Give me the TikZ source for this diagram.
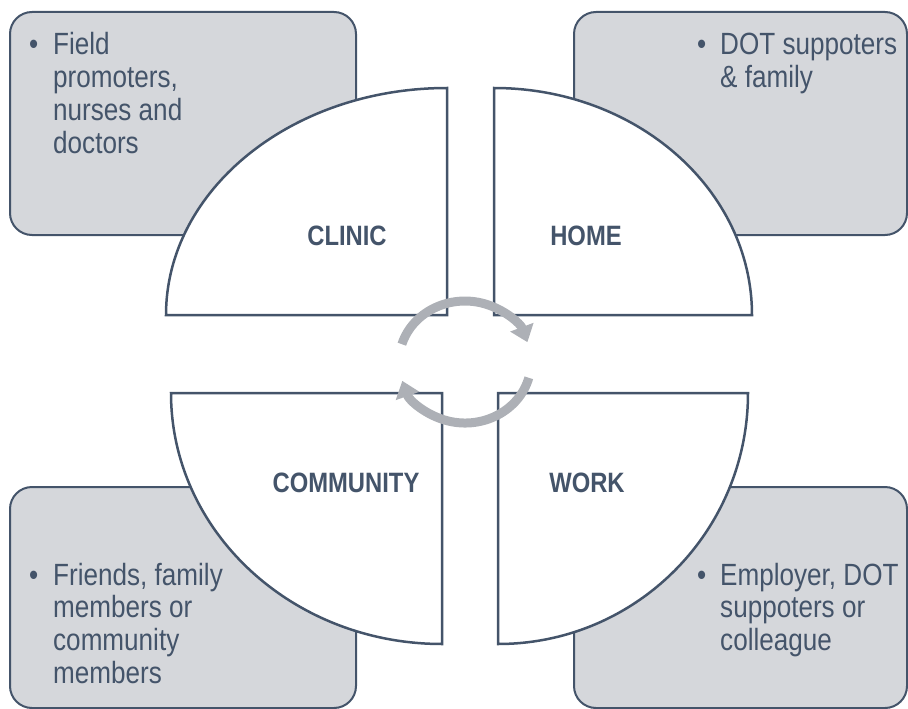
\documentclass[tikz,border=0pt]{standalone}
\usepackage{fontspec}
\setmainfont{Liberation Sans}
\newfontfamily\bodyfont[FakeStretch=0.85]{Liberation Sans}
\usetikzlibrary{arrows.meta}
\definecolor{navy}{HTML}{44546A}
\definecolor{boxgray}{HTML}{D5D7DB}
\definecolor{arrowgray}{HTML}{ADB0B6}
\begin{document}
\begin{tikzpicture}[x=1pt,y=-1pt,
  infobox/.style={draw=navy, fill=boxgray, line width=2pt, rounded corners=22pt},
  quarter/.style={draw=navy, fill=white, line width=2.5pt, line join=miter},
  cyc/.style={draw=arrowgray, line width=9pt, -{Triangle[width=24pt,length=16pt]}},
  lab/.style={font=\bodyfont\bfseries\fontsize{28}{30}\selectfont, text=navy, anchor=base, inner sep=0},
  info/.style={font=\bodyfont\fontsize{30.7}{32.7}\selectfont, text=navy, anchor=base west, inner sep=0}]
\useasboundingbox (0,0) rectangle (908,709);
% info boxes
\draw[infobox] (10,12) rectangle (356,235);
\draw[infobox] (574,12) rectangle (907,235);
\draw[infobox] (10,487) rectangle (356,708);
\draw[infobox] (574,487) rectangle (907,708);
% quarter shapes
\draw[quarter] (166,315) arc[start angle=180, end angle=90, x radius=281pt, y radius=227pt] -- (447,315) -- cycle;
\draw[quarter] (494,88) arc[start angle=90, end angle=0, x radius=258pt, y radius=227pt] -- (494,315) -- cycle;
\draw[quarter] (171,393) arc[start angle=180, end angle=270, x radius=271pt, y radius=251pt] -- (442,393) -- cycle;
\draw[quarter] (748,393) arc[start angle=0, end angle=-90, x radius=250pt, y radius=251pt] -- (498,393) -- cycle;
% cycle arrows
\coordinate (ctop) at (401.9,344.2);
\coordinate (cbot) at (528.8,377.8);
\draw[cyc] (ctop) arc[start angle=163, end angle=19, x radius=66pt, y radius=61pt];
\draw[cyc] (cbot) arc[start angle=-15, end angle=-162, x radius=66pt, y radius=61pt];
% labels
\node[lab] (clinic) at (347,245) {CLINIC};
\node[lab] (home) at (586,245) {HOME};
\node[lab] (community) at (346,492) {COMMUNITY};
\node[lab] (work) at (587,492) {WORK};
% texts
\node[info] (tltext) at (29,55) {\begin{tabular}[t]{@{}l@{}l@{}}\makebox[24pt][l]{•}&Field\\&promoters,\\&nurses and\\&doctors\end{tabular}};
\node[info] (trtext) at (697,55) {\begin{tabular}[t]{@{}l@{}l@{}}\makebox[23pt][l]{•}&DOT suppoters\\&\& family\end{tabular}};
\node[info] (bltext) at (29,585) {\begin{tabular}[t]{@{}l@{}l@{}}\makebox[24pt][l]{•}&Friends, family\\&members or\\&community\\&members\end{tabular}};
\node[info] (brtext) at (697,585) {\begin{tabular}[t]{@{}l@{}l@{}}\makebox[23pt][l]{•}&Employer, DOT\\&suppoters or\\&colleague\end{tabular}};
\end{tikzpicture}
\end{document}
